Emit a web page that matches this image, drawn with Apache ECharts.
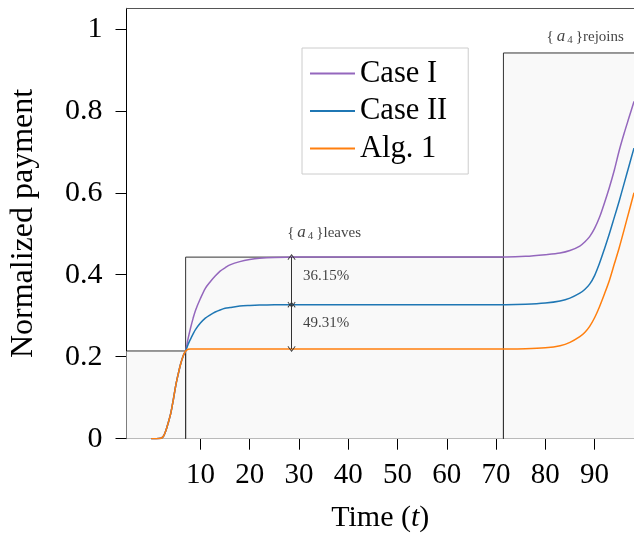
<!DOCTYPE html>
<html>
<head>
<meta charset="utf-8">
<script src="https://cdn.jsdelivr.net/npm/echarts@6/dist/echarts.min.js"></script>
<style>
html,body{margin:0;padding:0;background:#fff;}
#chart{width:634px;height:535px;}
</style>
</head>
<body>
<div id="chart"></div>
<script>
// ---- data ----
const time   = [0,1,2,2.5,3,3.5,4,4.5,5,5.5,6,6.5, 7,7.5,8,8.5,9, 10,11,12,13,14,15,16, 18,20,22,25,30, 40,50,60,72, 76,80,83,85,87,88,89, 90,91,92,93,94,95,96,97,98];
const caseI  = [0,0,0.001,0.006,0.02,0.04,0.063,0.095,0.13,0.158,0.183,0.202,
                0.214,0.244,0.27,0.293,0.313,
                0.342,0.367,0.383,0.397,0.409,0.417,0.424,
                0.432,0.437,0.44,0.442,0.4432,
                0.4435,0.4435,0.4435,0.4435,
                0.445,0.449,0.453,0.459,0.47,0.48,0.493,
                0.513,0.54,0.575,0.613,0.655,0.703,0.745,0.784,0.823];
const caseII = [0,0,0.001,0.006,0.02,0.04,0.063,0.095,0.13,0.158,0.183,0.202,
                0.214,0.23,0.243,0.255,0.266,
                0.282,0.294,0.302,0.309,0.314,0.318,0.32,
                0.3235,0.325,0.326,0.3267,0.327,
                0.327,0.327,0.327,0.327,
                0.328,0.331,0.336,0.343,0.355,0.364,0.377,
                0.398,0.428,0.463,0.5,0.54,0.58,0.623,0.666,0.709];
const alg1   = [0,0,0.001,0.006,0.02,0.04,0.063,0.095,0.13,0.158,0.183,0.202,
                0.214,0.2183,0.219,0.219,0.219,
                0.219,0.219,0.219,0.219,0.219,0.219,0.219,
                0.219,0.219,0.219,0.219,0.219,
                0.219,0.219,0.219,0.219,
                0.2195,0.222,0.227,0.235,0.249,0.259,0.274,
                0.295,0.322,0.353,0.386,0.426,0.466,0.51,0.555,0.6];
const seriesNames = ['Case I','Case II','Alg. 1'];
const phaseStart = [-5, 7, 71.5];
const phaseEnd   = [7, 71.5, 98];
const phaseLevel = [0.214, 0.443, 0.941];
const gapX = 28.5;
const gapLevels = [0.443, 0.327, 0.219];
const gapLabels = ['36.15%', '49.31%'];
const gapLabelX = 30.8;
const gapLabelY = [0.397, 0.282];
const eventNames = ['leaves', 'rejoins'];
const eventX = [35.1, 88.1];
const eventY = [0.502, 0.98];
const xTicks = [10,20,30,40,50,60,70,80,90];
const yTicks = [0,0.2,0.4,0.6,0.8,1];

// ---- build ----
const serif = '"Liberation Serif","Times New Roman",serif';
const colors = ['#9467bd','#1f77b4','#ff7f0e'];
const values = [caseI, caseII, alg1];
const pair = arr => time.map((t,i)=>[t, arr[i]]);

const framePts = [[phaseStart[0], phaseLevel[0]]];
for (let i = 0; i < phaseLevel.length; i++) {
  framePts.push([phaseEnd[i], phaseLevel[i]]);
  if (i < phaseLevel.length - 1) {
    framePts.push([phaseEnd[i], 0]);
    framePts.push([phaseEnd[i], phaseLevel[i+1]]);
  }
}
const areas = phaseLevel.map((h,i)=>[{xAxis: phaseStart[i], yAxis: 0},{xAxis: phaseEnd[i], yAxis: h}]);
const gapLines = [];
for (let i = 0; i < gapLevels.length - 1; i++) {
  gapLines.push([{coord:[gapX, gapLevels[i]]},{coord:[gapX, gapLevels[i+1]]}]);
}
const chev = 'path://M0,0 L-5,7 L-4.2,7.7 L0,1.8 L4.2,7.7 L5,7 Z';

const chart = echarts.init(document.getElementById('chart'), null, {renderer:'canvas'});
const option = {
  animation: false,
  backgroundColor: '#fff',
  grid: {left: 126.5, top: 8.3, right: 0, bottom: 96.3, containLabel: false, outerBoundsMode: 'none'},
  legend: {
    data: seriesNames,
    orient: 'vertical',
    left: 302, top: 48,
    padding: [10, 21, 10, 8],
    itemGap: 6.5,
    itemWidth: 45, itemHeight: 2,
    icon: 'rect',
    backgroundColor: '#fff',
    borderColor: '#cccccc', borderWidth: 1,
    textStyle: {fontFamily: serif, fontSize: 30.5, color: '#000', lineHeight: 30}
  },
  xAxis: [{
    type: 'value', min: -5, max: 98,
    name: 'Time ({it|t})', nameLocation: 'middle', nameGap: 64,
    nameTextStyle: {fontFamily: serif, fontSize: 30, color: '#000',
      rich: {it: {fontFamily: serif, fontSize: 30, fontStyle: 'italic', color: '#000'}}},
    axisLine: {show: true, onZero: false, lineStyle: {color: '#000', width: 1}},
    axisTick: {show: true, length: 11, inside: false, customValues: xTicks, lineStyle: {color: '#000'}},
    axisLabel: {customValues: xTicks, fontFamily: serif, fontSize: 29, color: '#000', margin: 22},
    splitLine: {show: false}
  }, {
    type: 'value', min: -5, max: 98, position: 'top',
    axisLine: {show: true, onZero: false, lineStyle: {color: '#555', width: 1}},
    axisTick: {show: false}, axisLabel: {show: false}, splitLine: {show: false}
  }],
  yAxis: {
    type: 'value', min: 0, max: 1.05,
    name: 'Normalized payment', nameLocation: 'middle', nameGap: 87, nameRotate: 90,
    nameTextStyle: {fontFamily: serif, fontSize: 32, color: '#000'},
    axisLine: {show: true, onZero: false, lineStyle: {color: '#000', width: 1}},
    axisTick: {show: true, length: 11, customValues: yTicks, lineStyle: {color: '#000'}},
    axisLabel: {customValues: yTicks, fontFamily: serif, fontSize: 30, color: '#000', margin: 24},
    splitLine: {show: false}
  },
  series: [
    {
      name: 'phases', type: 'line', data: framePts, z: 1,
      symbol: 'none', lineStyle: {color: '#333', width: 1}, silent: true,
      markArea: {silent: true, itemStyle: {color: '#f9f9f9'}, data: areas}
    },
    ...values.map((v,i)=>({
      name: seriesNames[i], type: 'line', data: pair(v), z: 3,
      symbol: 'none', smooth: 0.3,
      lineStyle: {color: colors[i], width: 1.5}, itemStyle: {color: colors[i]}
    })),
    {
      name: 'gaps', type: 'scatter', symbolSize: 0, z: 4, silent: true,
      data: gapLabels.map((s,i)=>[gapLabelX, gapLabelY[i], s]),
      label: {show: true, position: 'inside', align: 'left', verticalAlign: 'middle',
        formatter: p => p.value[2], fontFamily: serif, fontSize: 15, color: '#111'},
      markLine: {silent: true, symbol: [chev, chev], symbolSize: [8, 6],
        lineStyle: {color: '#333', width: 1, type: 'solid'}, label: {show: false}, data: gapLines}
    },
    {
      name: 'events', type: 'scatter', symbolSize: 0, z: 4, silent: true,
      data: eventNames.map((s,i)=>[eventX[i], eventY[i], s]),
      label: {show: true, position: 'inside', align: 'center', verticalAlign: 'middle',
        formatter: p => '{{it|a}{sub|4}}' + p.value[2],
        fontFamily: serif, fontSize: 15, color: '#111',
        rich: {
          it: {fontFamily: serif, fontSize: 17, fontStyle: 'italic', color: '#111', padding: [0, 1, 0, 3]},
          sub: {fontFamily: serif, fontSize: 11, color: '#111', verticalAlign: 'bottom', padding: [5, 3, 0, 1]}
        }}
    }
  ]
};
chart.setOption(option);
</script>
</body>
</html>
